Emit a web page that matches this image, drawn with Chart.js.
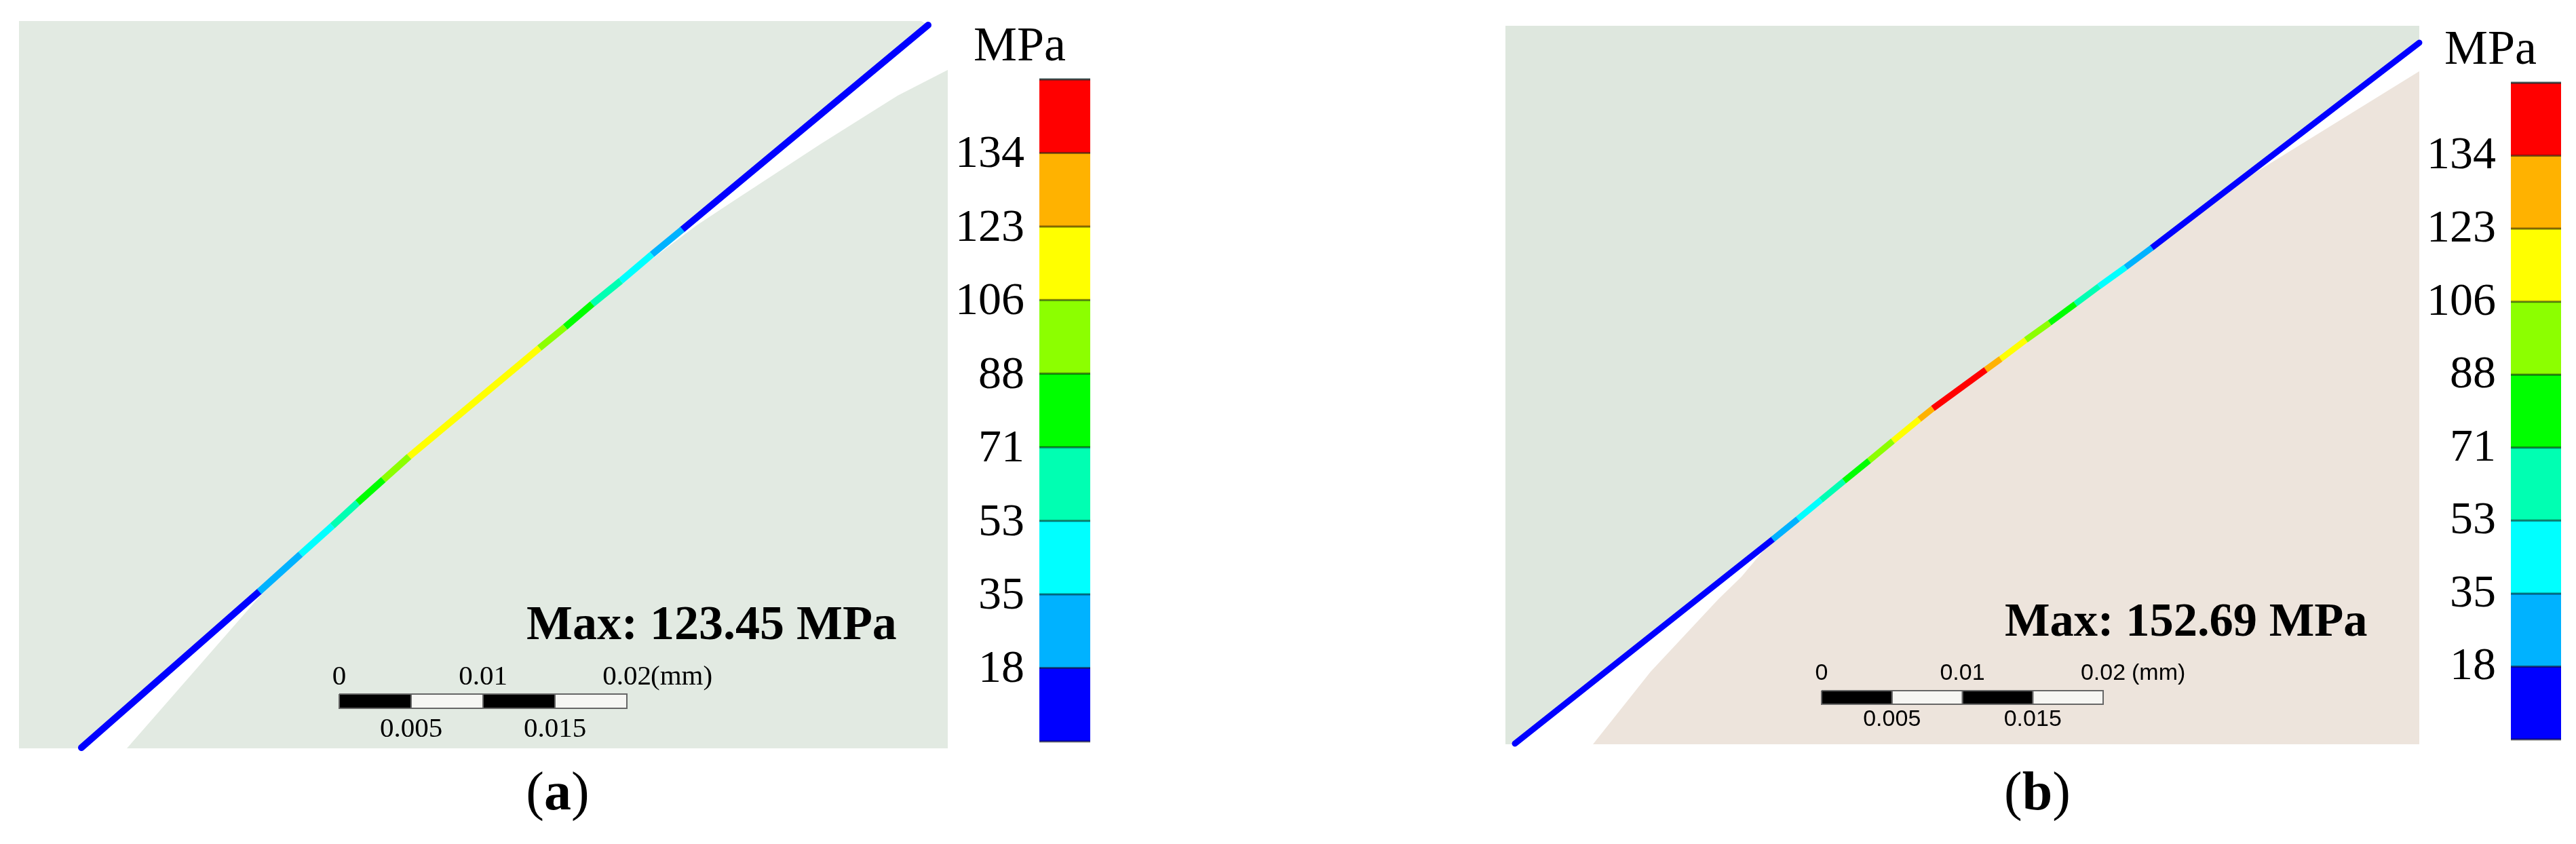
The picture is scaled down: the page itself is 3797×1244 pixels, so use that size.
<!DOCTYPE html>
<html>
<head>
<meta charset="utf-8">
<title>Contact stress</title>
<script src="https://cdn.jsdelivr.net/npm/chart.js@4"></script>
<style>
    html, body { margin: 0; padding: 0; background: #fff; overflow: hidden; }
    canvas { position: absolute; top: 0; }
    #PanelA { left: 0; }
    #PanelB { left: 1898px; }
</style>
</head>
<body>
<canvas id="PanelA" width="1898" height="1244"></canvas>
<canvas id="PanelB" width="1899" height="1244"></canvas>
<script>
// Colour bar: nine bands, eight labelled boundaries (same for both panels)
const bandLabels = ['18', '35', '53', '71', '88', '106', '123', '134'];
const bandColors = ['#0000ff', '#00b2ff', '#00ffff', '#00ffb2', '#00ff00', '#8cff00', '#ffff00', '#ffb200', '#ff0000'];

// Scale bar, values in mm
const scaleCells = [0, 0.005, 0.01, 0.015, 0.02];
const scaleTop = [0, 0.01, 0.02];
const scaleBottom = [0.005, 0.015];

// Panel a, stress path (image px), band of each stretch
const pathAx = [120, 382, 443, 490, 527, 565, 603, 795, 833, 873, 915, 961, 1006, 1368];
const pathAy = [1102, 872, 817, 775, 741, 707, 673, 513, 482, 448, 414, 375, 338, 37];
const pathAbands = [0, 1, 2, 3, 4, 5, 6, 5, 4, 3, 2, 1, 0];
const upperAx = [28, 1358, 1368, 1006, 873, 603, 382, 120, 112, 28];
const upperAy = [31, 31, 37, 338, 448, 673, 872, 1102, 1103, 1103];
const lowerAx = [187, 410, 603, 873, 1027, 1083, 1210, 1323, 1397, 1397];
const lowerAy = [1103, 848, 673, 448, 332, 295, 212, 141, 103, 1103];

// Panel b
const pathBx = [2233, 2613, 2650, 2684, 2718, 2755, 2790, 2829, 2849, 2927, 2949, 2986, 3021, 3059, 3094, 3133, 3172, 3566];
const pathBy = [1096, 795, 765, 737, 709, 679, 650, 618, 602, 545, 529, 501, 476, 448, 422, 394, 365, 63];
const pathBbands = [0, 1, 2, 3, 4, 5, 6, 7, 8, 7, 6, 5, 4, 3, 2, 1, 0];
const upperBx = [2219, 3566, 3566, 3172, 2849, 2613, 2233, 2219];
const upperBy = [38, 38, 63, 365, 602, 795, 1097, 1097];
const lowerBx = [2348, 2433, 2533, 2567, 2613, 2849, 3172, 3263, 3320, 3566, 3566];
const lowerBy = [1097, 990, 883, 850, 795, 602, 365, 300, 257, 105, 1097];

const panelA = {
    xMin: 0, xMax: 1898,
    pathX: pathAx, pathY: pathAy, pathBands: pathAbands, lineWidth: 10,
    upperX: upperAx, upperY: upperAy, upperColor: '#e2eae2',
    lowerX: lowerAx, lowerY: lowerAy, lowerColor: '#e2eae2',
    barLeft: 1532, barRight: 1607, barBottom: 1093, barTop: 117,
    unit: 'MPa', unitX: 1503, unitY: 70, labelRight: 1510, labelShift: 3,
    maxText: 'Max: 123.45 MPa', maxX: 776, maxY: 923, maxSize: 72,
    scaleX0: 500, scaleX1: 924, scaleBarTop: 1023, scaleBarBottom: 1044,
    scaleFont: 'Liberation Serif', scaleSize: 41, scaleTopY: 998, scaleBottomY: 1075, mmX: 959,
    caption: 'a', captionX: 822, captionY: 1172
};

const panelB = {
    xMin: 1898, xMax: 3797,
    pathX: pathBx, pathY: pathBy, pathBands: pathBbands, lineWidth: 9,
    upperX: upperBx, upperY: upperBy, upperColor: '#dee7de',
    lowerX: lowerBx, lowerY: lowerBy, lowerColor: '#ede4dc',
    barLeft: 3701, barRight: 3775, barBottom: 1090, barTop: 122,
    unit: 'MPa', unitX: 3671, unitY: 75, labelRight: 3679, labelShift: 1,
    maxText: 'Max: 152.69 MPa', maxX: 2955, maxY: 919, maxSize: 70.5,
    scaleX0: 2685, scaleX1: 3100, scaleBarTop: 1018, scaleBarBottom: 1038,
    scaleFont: 'Liberation Sans', scaleSize: 34, scaleTopY: 993, scaleBottomY: 1061, mmX: 3142,
    caption: 'b', captionX: 3003, captionY: 1172
};

function toPoints(xs, ys) {
    return xs.map(function(x, i) {
        return { x: x, y: ys[i] };
    });
}

function shape(points, color, order, xAxis, yAxis, border) {
    return {
        data: points,
        showLine: true,
        fill: 'shape',
        backgroundColor: color,
        borderColor: border || 'transparent',
        borderWidth: border ? 2 : 1,
        pointRadius: 0,
        order: order,
        xAxisID: xAxis || 'x',
        yAxisID: yAxis || 'y'
    };
}

function buildDatasets(p) {
    const sets = [];

    // Material regions
    sets.push(shape(toPoints(p.upperX, p.upperY), p.upperColor, 50));
    sets.push(shape(toPoints(p.lowerX, p.lowerY), p.lowerColor, 50));

    // Stress path, one stretch per band
    p.pathBands.forEach(function(band, i) {
        sets.push({
            data: [{ x: p.pathX[i], y: p.pathY[i] }, { x: p.pathX[i + 1], y: p.pathY[i + 1] }],
            showLine: true,
            borderColor: bandColors[band],
            borderWidth: p.lineWidth,
            borderCapStyle: band === 0 ? 'round' : 'butt',
            pointRadius: 0,
            order: band === 0 ? 40 : 30,
            xAxisID: 'x',
            yAxisID: 'y'
        });
    });

    // Colour bar
    bandColors.forEach(function(color, i) {
        sets.push(shape([
            { x: p.barLeft, y: i },
            { x: p.barRight, y: i },
            { x: p.barRight, y: i + 1 },
            { x: p.barLeft, y: i + 1 }
        ], color, 20, 'x', 'yBand'));
    });
    for (let i = 0; i <= bandColors.length; i++) {
        sets.push({
            data: [{ x: p.barLeft, y: i }, { x: p.barRight, y: i }],
            showLine: true,
            borderColor: i === bandColors.length ? 'rgba(20,50,50,0.8)' : 'rgba(0,0,0,0.5)',
            borderWidth: 3,
            pointRadius: 0,
            order: 10,
            xAxisID: 'x',
            yAxisID: 'yBand'
        });
    }

    // Scale bar
    for (let i = 0; i < scaleCells.length - 1; i++) {
        sets.push(shape([
            { x: scaleCells[i], y: p.scaleBarTop },
            { x: scaleCells[i + 1], y: p.scaleBarTop },
            { x: scaleCells[i + 1], y: p.scaleBarBottom },
            { x: scaleCells[i], y: p.scaleBarBottom },
            { x: scaleCells[i], y: p.scaleBarTop }
        ], i % 2 === 0 ? '#000000' : '#f6f6f3', 10, 'xMm', 'y', '#666666'));
    }

    return sets;
}

const labelsPlugin = {
    id: 'panelLabels',
    afterDatasetsDraw: function(chart, args, options) {
        const p = options.panel;
        const c = chart.ctx;
        const x = chart.scales.x;
        const y = chart.scales.y;
        const yBand = chart.scales.yBand;
        const xMm = chart.scales.xMm;

        c.save();
        c.fillStyle = '#000';
        c.textBaseline = 'middle';

        // Unit and colour bar labels
        c.font = '72px "Liberation Serif"';
        c.textAlign = 'center';
        c.fillText(p.unit, x.getPixelForValue(p.unitX), y.getPixelForValue(p.unitY));
        c.font = '68px "Liberation Serif"';
        c.textAlign = 'right';
        bandLabels.forEach(function(label, i) {
            c.fillText(label, x.getPixelForValue(p.labelRight), yBand.getPixelForValue(i + 1) + p.labelShift);
        });

        // Max value
        c.font = 'bold ' + p.maxSize + 'px "Liberation Serif"';
        c.textAlign = 'left';
        c.fillText(p.maxText, x.getPixelForValue(p.maxX), y.getPixelForValue(p.maxY));

        // Scale bar labels
        c.font = p.scaleSize + 'px "' + p.scaleFont + '"';
        c.textAlign = 'center';
        scaleTop.forEach(function(v) {
            c.fillText(String(v), xMm.getPixelForValue(v), y.getPixelForValue(p.scaleTopY));
        });
        scaleBottom.forEach(function(v) {
            c.fillText(String(v), xMm.getPixelForValue(v), y.getPixelForValue(p.scaleBottomY));
        });
        c.textAlign = 'left';
        c.fillText('(mm)', x.getPixelForValue(p.mmX), y.getPixelForValue(p.scaleTopY));

        // Caption, letter is bold
        const px = x.getPixelForValue(p.captionX);
        const py = y.getPixelForValue(p.captionY);
        c.font = '80px "Liberation Serif"';
        const paren = c.measureText('(').width;
        c.font = 'bold 80px "Liberation Serif"';
        const letter = c.measureText(p.caption).width;
        const left = px - (paren * 2 + letter) / 2;
        c.font = '80px "Liberation Serif"';
        c.fillText('(', left, py);
        c.fillText(')', left + paren + letter, py);
        c.font = 'bold 80px "Liberation Serif"';
        c.fillText(p.caption, left + paren, py);

        c.restore();
    }
};

function drawPanel(canvas, p) {
    const width = p.xMax - p.xMin;
    const pxPerMm = (p.scaleX1 - p.scaleX0) / 0.02;
    const pxPerBand = (p.barBottom - p.barTop) / bandColors.length;

    new Chart(canvas, {
        type: 'scatter',
        data: { datasets: buildDatasets(p) },
        options: {
            responsive: false,
            animation: false,
            events: [],
            layout: { padding: 0 },
            plugins: {
                legend: { display: false },
                tooltip: { enabled: false },
                panelLabels: { panel: p }
            },
            scales: {
                x: { type: 'linear', display: false, min: p.xMin, max: p.xMax },
                y: { type: 'linear', display: false, min: 0, max: 1244, reverse: true },
                yBand: {
                    type: 'linear',
                    axis: 'y',
                    display: false,
                    min: -(1244 - p.barBottom) / pxPerBand,
                    max: bandColors.length + p.barTop / pxPerBand
                },
                xMm: {
                    type: 'linear',
                    axis: 'x',
                    display: false,
                    min: (p.xMin - p.scaleX0) / pxPerMm,
                    max: (p.xMin + width - p.scaleX0) / pxPerMm
                }
            }
        },
        plugins: [labelsPlugin]
    });
}

drawPanel(document.getElementById('PanelA'), panelA);
drawPanel(document.getElementById('PanelB'), panelB);
</script>
</body>
</html>
